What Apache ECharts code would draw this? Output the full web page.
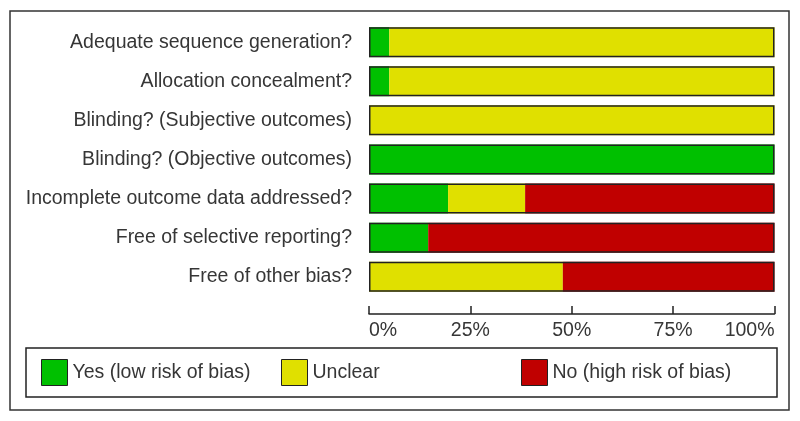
<!DOCTYPE html>
<html>
<head>
<meta charset="utf-8">
<script src="https://cdn.jsdelivr.net/npm/echarts@6/dist/echarts.min.js"></script>
<style>
html,body{margin:0;padding:0;background:#fff;}
#chart{width:800px;height:421px;}
</style>
</head>
<body>
<div id="chart"></div>
<script>
const categories = [
  'Adequate sequence generation?',
  'Allocation concealment?',
  'Blinding? (Subjective outcomes)',
  'Blinding? (Objective outcomes)',
  'Incomplete outcome data addressed?',
  'Free of selective reporting?',
  'Free of other bias?'
];
const lowRisk     = [5.0, 5.0, 0,   100, 19.5, 14.6, 0];
const unclear     = [95.0, 95.0, 100, 0,  19.0, 0,    47.8];
const highRisk    = [0,    0,    0,   0,  61.5, 85.4, 52.2];
const outline     = [100, 100, 100, 100, 100, 100, 100];
const tickValues  = [0, 25, 50, 75, 100];
const legendNames = ['Yes (low risk of bias)', 'Unclear', 'No (high risk of bias)'];

const FONT = 'Arial, "Liberation Sans", sans-serif';
const FS = 19.5;
const TXT = '#363636';
const colors = ['#00c000', '#e0e000', '#c00000'];

const chart = echarts.init(document.getElementById('chart'), null, {renderer: 'canvas'});

function legendAt(name, left) {
  return {
    data: [name],
    left: left,
    top: 359,
    padding: 0,
    itemWidth: 26,
    itemHeight: 26,
    icon: 'rect',
    selectedMode: false,
    itemStyle: {borderColor: '#222', borderWidth: 1},
    textStyle: {fontFamily: FONT, fontSize: FS, color: TXT}
  };
}

const option = {
  animation: false,
  backgroundColor: '#fff',
  grid: {left: 369, right: 25.5, top: 22.6, bottom: 124.7, containLabel: false},
  xAxis: {
    type: 'value',
    min: tickValues[0],
    max: tickValues[tickValues.length - 1],
    interval: 25,
    offset: 17.7,
    splitLine: {show: false},
    axisLine: {show: true, lineStyle: {color: '#222', width: 1.5}},
    axisTick: {show: true, inside: true, length: 8, lineStyle: {color: '#222', width: 1.5}},
    axisLabel: {
      fontFamily: FONT, fontSize: FS, color: TXT, margin: 7,
      formatter: '{value}%',
      showMinLabel: true, showMaxLabel: true,
      alignMinLabel: 'left', alignMaxLabel: 'right'
    }
  },
  yAxis: {
    type: 'category',
    data: categories,
    inverse: true,
    axisLine: {show: false},
    axisTick: {show: false},
    axisLabel: {fontFamily: FONT, fontSize: FS, color: TXT, margin: 17}
  },
  legend: [
    legendAt(legendNames[0], 41),
    legendAt(legendNames[1], 281),
    legendAt(legendNames[2], 521)
  ],
  graphic: [
    {type: 'rect', shape: {x: 10, y: 11, width: 779, height: 399},
     style: {fill: 'none', stroke: '#333', lineWidth: 1.5}, z: -1},
    {type: 'rect', shape: {x: 26, y: 348, width: 751, height: 49},
     style: {fill: 'none', stroke: '#222', lineWidth: 1.5}, z: -1}
  ],
  series: [
    {name: legendNames[0], type: 'bar', stack: 'risk', data: lowRisk, barWidth: 30,
     itemStyle: {color: colors[0]}, silent: true},
    {name: legendNames[1], type: 'bar', stack: 'risk', data: unclear, barWidth: 30,
     itemStyle: {color: colors[1]}, silent: true},
    {name: legendNames[2], type: 'bar', stack: 'risk', data: highRisk, barWidth: 30,
     itemStyle: {color: colors[2]}, silent: true},
    {name: 'outline', type: 'bar', data: outline, barWidth: 30, barGap: '-100%',
     itemStyle: {color: 'rgba(0,0,0,0)', borderColor: '#222', borderWidth: 1.5},
     silent: true, z: 5}
  ]
};
chart.setOption(option);
</script>
</body>
</html>
